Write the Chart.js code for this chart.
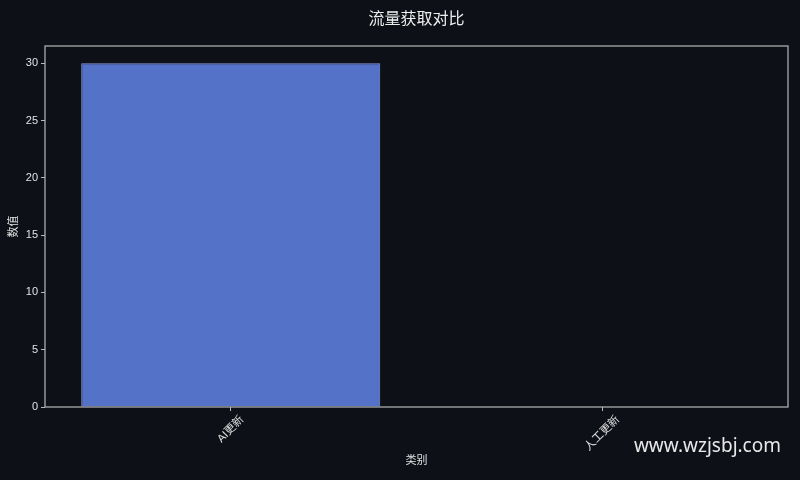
<!DOCTYPE html>
<html>
<head>
<meta charset="utf-8">
<script src="https://cdn.jsdelivr.net/npm/chart.js@4/dist/chart.umd.min.js"></script>
<style>
  html, body { margin: 0; padding: 0; background: #0d1017; }
  #wrap { width: 800px; height: 480px; }
</style>
</head>
<body>
<div id="wrap"><canvas id="c" width="800" height="480"></canvas></div>
<script>
// ===== data =====
const categories = ["AI更新", "人工更新"];
const values = [30, 0];
const yTicks = [0, 5, 10, 15, 20, 25, 30];

const BG = "#0d1017";
const TEXT = "#e2e2e2";
const SPINE = "#b8b8b8";
const FONT = "'Liberation Sans', 'Noto Sans CJK SC', sans-serif";

Chart.defaults.font.family = FONT;
Chart.defaults.color = TEXT;

// background, frame, rotated x labels, watermark
const decor = {
  id: "decor",
  beforeDraw(chart) {
    const ctx = chart.ctx;
    ctx.save();
    ctx.fillStyle = BG;
    ctx.fillRect(0, 0, chart.width, chart.height);
    ctx.restore();
  },
  afterDraw(chart) {
    const ctx = chart.ctx;
    const a = chart.chartArea;
    const xs = chart.scales.x;
    ctx.save();
    // frame
    ctx.strokeStyle = SPINE;
    ctx.lineWidth = 1.2;
    ctx.strokeRect(a.left, a.top, a.right - a.left, a.bottom - a.top);

    // x tick labels, rotated 45deg and centred on the tick
    ctx.font = "11px " + FONT;
    ctx.fillStyle = TEXT;
    ctx.textAlign = "center";
    ctx.textBaseline = "middle";
    categories.forEach((lab, i) => {
      const x = xs.getPixelForTick(i);
      const w = ctx.measureText(lab).width;
      const h = 11;
      const boxH = (w + h) * Math.SQRT1_2;
      const cy = a.bottom + 7 + boxH / 2;
      ctx.save();
      ctx.translate(x, cy);
      ctx.rotate(-Math.PI / 4);
      ctx.fillText(lab, 0, 0);
      ctx.restore();
    });

    // watermark
    ctx.font = "19px 'Noto Sans', sans-serif";
    ctx.fillStyle = "#e8e8e8";
    ctx.textAlign = "right";
    ctx.textBaseline = "middle";
    ctx.fillText("www.wzjsbj.com", 781, 447);
    ctx.restore();
  }
};

new Chart(document.getElementById("c"), {
  type: "bar",
  data: {
    labels: categories,
    datasets: [{
      data: values,
      backgroundColor: "#5572c9",
      borderColor: "#8a9bdb",
      borderWidth: 1,
      barPercentage: 0.805,
      categoryPercentage: 1.0
    }]
  },
  options: {
    responsive: false,
    animation: false,
    layout: { padding: { right: 12, left: 0, top: 0, bottom: 0 } },
    plugins: {
      legend: { display: false },
      tooltip: { enabled: false },
      title: {
        display: true,
        fullSize: false,
        text: "流量获取对比",
        color: "#eeeeee",
        font: { family: "'Noto Sans CJK SC', sans-serif", size: 16, weight: "normal" },
        padding: { top: 8, bottom: 18.8 }
      }
    },
    scales: {
      x: {
        type: "category",
        offset: true,
        border: { display: false },
        grid: { display: true, drawOnChartArea: false, drawTicks: true, tickLength: 4, color: SPINE, offset: false },
        ticks: { display: false },
        title: {
          display: true,
          text: "类别",
          color: TEXT,
          font: { size: 11 },
          padding: { top: 0, bottom: 12 }
        },
        afterFit(scale) { scale.height = 73; }
      },
      y: {
        min: 0,
        max: 31.5,
        border: { display: false },
        grid: { display: true, drawOnChartArea: false, drawTicks: true, tickLength: 4, color: SPINE },
        ticks: {
          stepSize: 5,
          includeBounds: false,
          padding: 3,
          color: TEXT,
          font: { size: 11 }
        },
        afterBuildTicks(scale) {
          scale.ticks = yTicks.map(v => ({ value: v }));
        },
        title: {
          display: true,
          text: "数值",
          color: TEXT,
          font: { size: 11 },
          padding: { top: 7, bottom: 0 }
        },
        afterFit(scale) { scale.width = 45; }
      }
    }
  },
  plugins: [decor]
});
</script>
</body>
</html>
